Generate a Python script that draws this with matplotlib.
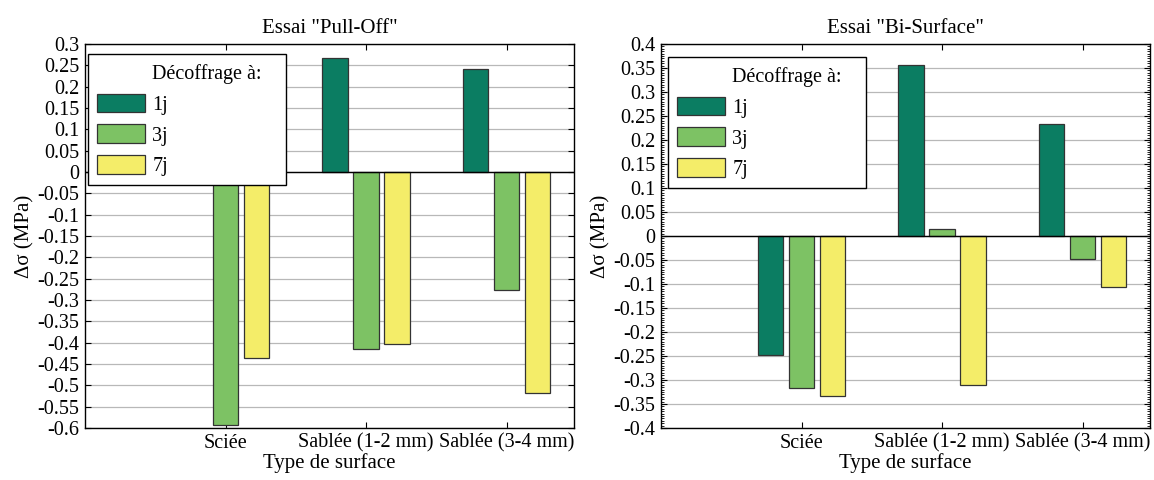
import matplotlib
matplotlib.use("Agg")
import matplotlib.pyplot as plt
import numpy as np
from matplotlib.ticker import MultipleLocator, FuncFormatter
from matplotlib.patches import Rectangle

plt.rcParams['font.family'] = ['Liberation Serif', 'DejaVu Serif']
plt.rcParams['font.size'] = 14.5
plt.rcParams['axes.unicode_minus'] = False

surfaces = ["Sciée", "Sablée (1-2 mm)", "Sablée (3-4 mm)"]
series = ["1j", "3j", "7j"]
colors = ["#0b7d62", "#7dc264", "#f4ed69"]

# Essai "Pull-Off"
pull_1j = [0.0, 0.268, 0.242]
pull_3j = [-0.592, -0.415, -0.277]
pull_7j = [-0.437, -0.403, -0.518]

# Essai "Bi-Surface"
bi_1j = [-0.248, 0.357, 0.234]
bi_3j = [-0.317, 0.015, -0.047]
bi_7j = [-0.333, -0.310, -0.107]

fig = plt.figure(figsize=(11.54, 4.8), dpi=100)
ax1 = fig.add_axes([85/1154, 1-428/480, 489/1154, 384/480])
ax2 = fig.add_axes([661/1154, 1-428/480, 489/1154, 384/480])

def fmt(v, pos):
    s = "%g" % round(v, 4)
    return "0" if s in ("-0", "0") else s

def draw(ax, data, title, ylim, minor, leg_anchor):
    x = np.arange(1, len(surfaces) + 1)
    w = 0.18
    offs = [-0.22, 0.0, 0.22]
    bars = []
    for vals, lab, c, o in zip(data, series, colors, offs):
        b = ax.bar(x + o, vals, w, color=c, edgecolor="#333333", linewidth=0.9, label=lab, zorder=3)
        bars.append(b)
    ax.axhline(0, color="black", linewidth=1, zorder=4)
    ax.set_xlim(0, 3.48)
    ax.set_ylim(*ylim)
    ax.yaxis.set_major_locator(MultipleLocator(0.05))
    ax.yaxis.set_major_formatter(FuncFormatter(fmt))
    if minor:
        ax.yaxis.set_minor_locator(MultipleLocator(0.005))
    ax.set_xticks(x)
    ax.set_xticklabels(surfaces)
    ax.tick_params(direction="in", top=True, right=True, length=4, pad=4)
    ax.tick_params(which="minor", direction="in", left=True, right=True, length=2)
    ax.grid(axis="y", color="#b8b8b8", linewidth=0.9, zorder=0)
    ax.set_axisbelow(True)
    for s in ax.spines.values():
        s.set_linewidth(1.0)
    ax.set_title(title, fontsize=15, pad=8)
    ax.set_xlabel("Type de surface", fontsize=15, labelpad=0)
    ax.set_ylabel("Δσ (MPa)", fontsize=15, labelpad=2)
    # legend title drawn as an entry with an empty handle so it lines up with labels
    blank = Rectangle((0, 0), 1, 1, fill=False, edgecolor="none", linewidth=0)
    handles = [blank] + [b.patches[0] for b in bars]
    labels = ["Décoffrage à:   "] + series
    leg = ax.legend(handles, labels, loc="upper left", bbox_to_anchor=leg_anchor,
                    fancybox=False, edgecolor="black", framealpha=1,
                    handlelength=2.4, handleheight=1.05,
                    borderaxespad=0, labelspacing=0.47, handletextpad=0.35,
                    fontsize=14.5, borderpad=0.45)
    leg.get_frame().set_linewidth(1.0)

draw(ax1, [pull_1j, pull_3j, pull_7j], 'Essai "Pull-Off"', (-0.6, 0.3), False,
     (3/489, 1-10/384))
draw(ax2, [bi_1j, bi_3j, bi_7j], 'Essai "Bi-Surface"', (-0.4, 0.4), True,
     (7/489, 1-13/384))

fig.savefig("out.png", dpi=100)
